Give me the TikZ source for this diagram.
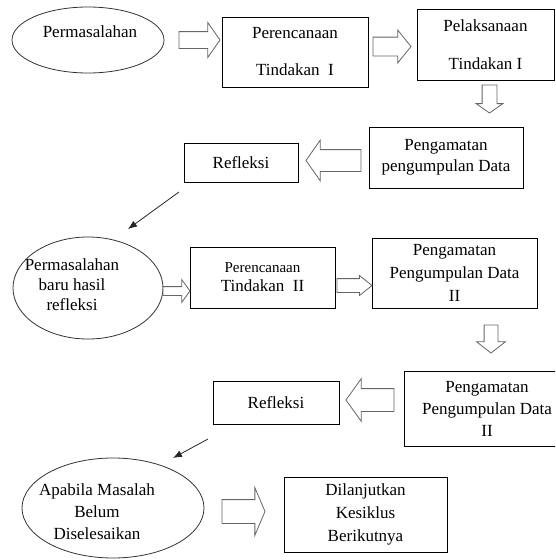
\documentclass[tikz,border=0pt]{standalone}
\usepackage{fontspec}
\setmainfont{Liberation Serif}
\usetikzlibrary{shapes.geometric,shapes.arrows,arrows.meta}

\begin{document}
\begin{tikzpicture}[x=1pt,y=-1pt,
  every node/.style={font=\fontsize{17}{22}\selectfont},
  kotak/.style={draw, line width=0.8pt, inner sep=0pt, outer sep=0pt, align=center},
  elips/.style={ellipse, draw=black!80, line width=0.8pt, inner sep=0pt, outer sep=0pt},
  panah/.style={single arrow, draw=black!60, fill=white, line width=0.8pt, inner xsep=0pt, outer sep=0pt, single arrow head indent=0pt, anchor=tail},
  garis/.style={-{Latex[length=9pt,width=7pt]}, line width=0.8pt, black!85}]
\useasboundingbox (0,0) rectangle (555,560);
\clip (0,0) rectangle (555,560);

\node[elips, minimum width=152pt, minimum height=66pt, label={[xshift=2pt,yshift=8pt]center:Permasalahan}] (masalah1) at (88,40) {};
\node[kotak, minimum width=146pt, minimum height=70pt, font=\fontsize{17}{37}\selectfont] (rencana1) at (295,52) {Perencanaan\\Tindakan~~I};
\node[kotak, minimum width=137pt, minimum height=71pt, font=\fontsize{17}{38}\selectfont] (laksana1) at (485.5,44.5) {Pelaksanaan\\Tindakan I};
\node[kotak, minimum width=154pt, minimum height=61pt, font=\fontsize{17}{21}\selectfont] (amat1) at (446,157.5) {Pengamatan\\pengumpulan Data};
\node[kotak, minimum width=114pt, minimum height=39pt] (refleksi1) at (241,162.5) {Refleksi};

\node[elips, minimum width=150pt, minimum height=102pt, label={[xshift=-16pt,yshift=3pt,align=center,font=\fontsize{17}{20}\selectfont]center:Permasalahan\\baru hasil\\refleksi}] (masalah2) at (88,288) {};
\node[kotak, minimum width=145pt, minimum height=61pt, font=\fontsize{17}{19}\selectfont] (rencana2) at (262.5,277.5) {{\fontsize{15}{19}\selectfont Perencanaan}\\Tindakan~~II};
\node[kotak, minimum width=165pt, minimum height=70pt, font=\fontsize{17}{23}\selectfont] (amat2) at (454.5,273) {Pengamatan\\Pengumpulan Data\\II};
\node[kotak, minimum width=126pt, minimum height=43pt] (refleksi2) at (276,402.5) {Refleksi};
\node[kotak, minimum width=166pt, minimum height=75pt] (amat3) at (487,408.5) {Pengamatan\\Pengumpulan Data\\II};

\node[elips, minimum width=182pt, minimum height=100pt, label={[xshift=-16pt,yshift=-4pt,align=center]center:Apabila Masalah\\Belum\\Diselesaikan}] (masalah3) at (113,508) {};
\node[kotak, minimum width=163pt, minimum height=75pt, font=\fontsize{17}{23}\selectfont] (lanjut) at (365.5,514.5) {Dilanjutkan\\Kesiklus\\Berikutnya};

\node[panah, minimum height=41pt, inner ysep=8pt, single arrow head extend=9pt, single arrow tip angle=110] (p1) at (179,40) {};
\node[panah, minimum height=38pt, inner ysep=9pt, single arrow head extend=7pt, single arrow tip angle=102] (p2) at (373,46.5) {};
\node[panah, minimum height=28pt, inner xsep=7pt, inner ysep=0pt, single arrow head extend=6pt, single arrow tip angle=110, shape border rotate=270] (p3) at (489.5,85) {};
\node[panah, minimum height=55pt, inner ysep=10.5pt, single arrow head extend=9.5pt, single arrow tip angle=110, shape border rotate=180] (p4) at (361,160.5) {};
\node[panah, minimum height=27pt, inner ysep=4pt, single arrow head extend=7pt, single arrow tip angle=108] (p5) at (163,291) {};
\node[panah, minimum height=35pt, inner ysep=6.5pt, single arrow head extend=3pt, single arrow tip angle=77] (p6) at (337,285.5) {};
\node[panah, minimum height=28pt, inner xsep=6.5pt, inner ysep=0pt, single arrow head extend=7.5pt, single arrow tip angle=104, shape border rotate=270] (p7) at (491,325) {};
\node[panah, minimum height=48pt, inner ysep=11pt, single arrow head extend=10pt, single arrow tip angle=109, shape border rotate=180] (p8) at (394,400) {};
\node[panah, minimum height=43pt, inner ysep=11.5pt, single arrow head extend=12pt, single arrow tip angle=134] (p9) at (222,511.5) {};

\draw[garis] ([xshift=-5pt,yshift=-10pt]refleksi1.south west) -- ([xshift=40pt,yshift=8pt]masalah2.north);
\draw[garis] ([xshift=-5pt,yshift=-15pt]refleksi2.south west) -- ([xshift=60pt]masalah3.north);
\end{tikzpicture}
\end{document}
